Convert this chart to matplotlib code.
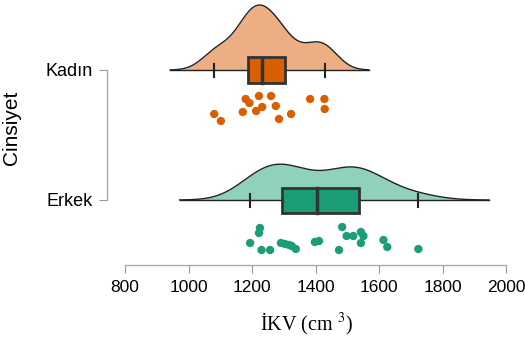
import numpy as np
import matplotlib
matplotlib.use("Agg")
import matplotlib.pyplot as plt

plt.rcParams["font.family"] = ["Liberation Sans", "DejaVu Sans"]
plt.rcParams["mathtext.fontset"] = "stix"

# values (cm3)
kadin = [1081, 1102, 1171, 1180, 1192, 1213, 1222, 1232, 1260, 1275,
         1285, 1323, 1383, 1428, 1429]
kadin_jit = [44, 51, 42, 29, 33, 41, 26, 37, 26, 36, 49, 44, 29, 29, 39]
erkek = [1194, 1225, 1222, 1230, 1257, 1291, 1304, 1317, 1325, 1338, 1398,
         1411, 1474, 1484, 1498, 1519, 1543, 1551, 1543, 1614, 1626, 1724]
erkek_jit = [43, 28, 33, 50, 50, 43, 44, 45, 46, 49, 42, 41, 50, 27, 36,
             36, 32, 36, 43, 40, 47, 49]

groups = ["Erkek", "Kadın"]
data = [erkek, kadin]
jitter = [erkek_jit, kadin_jit]
fill_kde = ["#8fd1bb", "#edae83"]
fill_box = ["#1b9e77", "#d95f02"]

unit = 130.0  # px between the two groups


def bw_nrd0(x):
    x = np.asarray(x, float)
    q1, q3 = np.percentile(x, [25, 75])
    s = min(np.std(x, ddof=1), (q3 - q1) / 1.34)
    return 0.9 * s * len(x) ** (-0.2)


def kde(x, bw):
    x = np.asarray(x, float)
    grid = np.linspace(x.min() - 3 * bw, x.max() + 3 * bw, 400)
    d = np.exp(-0.5 * ((grid[:, None] - x[None, :]) / bw) ** 2).sum(1)
    d /= len(x) * bw * np.sqrt(2 * np.pi)
    return grid, d


fig = plt.figure(figsize=(5.25, 3.42), dpi=100)
W, H = 525, 342
ax = fig.add_axes([107 / W, (H - 265) / H, (506 - 107) / W, (265 - 2) / H])

dens = [kde(v, bw_nrd0(v)) for v in data]
scale = (65 / unit) / dens[1][1].max()

for i, vals in enumerate(data):
    grid, d = dens[i]
    ax.fill_between(grid, i, i + d * scale, color=fill_kde[i], lw=0, zorder=1)
    ax.plot(grid, i + d * scale, color="#222222", lw=1, zorder=2)
    ax.plot([grid[0], grid[-1]], [i, i], color="#222222", lw=1, zorder=2)

    q1, med, q3 = np.percentile(vals, [25, 50, 75])
    lo, hi = min(vals), max(vals)
    bh = 12.5 / unit
    ax.add_patch(plt.Rectangle((q1, i - bh), q3 - q1, 2 * bh, facecolor=fill_box[i],
                               edgecolor="#333333", lw=2, zorder=3))
    ax.plot([med, med], [i - bh, i + bh], color="#333333", lw=2.5, zorder=4)
    for w in (lo, hi):
        ax.plot([w, w], [i - 6.5 / unit, i + 6.5 / unit], color="#222222", lw=1.5, zorder=2)

    ys = [i - j / unit for j in jitter[i]]
    ax.scatter(vals, ys, s=36, color=fill_box[i], edgecolors="none", zorder=3)

ax.set_xlim(800 - 18 / 0.3175, 2000)
ax.set_ylim(-65 / unit, 198 / unit)
ax.set_xticks(range(800, 2001, 200))
ax.set_yticks([0, 1])
ax.set_yticklabels(groups, fontsize=13)
ax.tick_params(axis="x", labelsize=12.5, length=6, color="#999999", pad=5)
ax.tick_params(axis="y", length=6, color="#999999", pad=4)

for s in ("top", "right"):
    ax.spines[s].set_visible(False)
ax.spines["bottom"].set_bounds(800, 2000)
ax.spines["left"].set_bounds(0, 1)
for s in ("bottom", "left"):
    ax.spines[s].set_color("#aaaaaa")
    ax.spines[s].set_linewidth(1)

ax.set_xlabel("İKV (cm $^{3}$)", fontsize=14.5, family=["Liberation Serif", "DejaVu Serif"],
              labelpad=11)
ax.set_ylabel("Cinsiyet", fontsize=15)
ax.yaxis.set_label_coords(-(107 - 21) / (506 - 107), (265 - 128) / 263)

fig.savefig("out.png", dpi=100)
